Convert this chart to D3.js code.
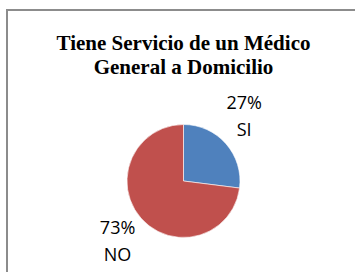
<!DOCTYPE html>
<html>
<head>
<meta charset="utf-8">
<script src="https://cdn.jsdelivr.net/npm/d3@7/dist/d3.min.js"></script>
<style>
  html, body { margin: 0; padding: 0; background: #fff; }
  svg { display: block; }
</style>
</head>
<body>
<script>
// Data
const titleLines = ["Tiene Servicio de un Médico", "General a Domicilio"];
const categories = ["SI", "NO"];
const values = [27, 73];
const colors = ["#4F81BD", "#C0504D"];

const W = 355, H = 272;
const svg = d3.select("body").append("svg").attr("width", W).attr("height", H);
svg.append("rect").attr("width", W).attr("height", H).attr("fill", "#fff");

// frame (left and top edges visible)
svg.append("path")
  .attr("d", `M7,${H} L7,10 L${W},10`)
  .attr("fill", "none").attr("stroke", "#8c8c8c").attr("stroke-width", 2);

const cx = 183.5, cy = 181, r = 56.5;

// title
const title = svg.append("text")
  .attr("text-anchor", "middle")
  .attr("font-family", "'Liberation Serif', 'Times New Roman', serif")
  .attr("font-weight", "bold").attr("font-size", 21).attr("fill", "#000");
titleLines.forEach((t, i) => {
  title.append("tspan").attr("x", cx).attr("y", 50 + i * 24).text(t);
});

const data = categories.map((c, i) => ({ cat: c, value: values[i], color: colors[i] }));
const pie = d3.pie().value(d => d.value).sort(null);
const arcs = pie(data);
const arc = d3.arc().innerRadius(0).outerRadius(r);

const g = svg.append("g").attr("transform", `translate(${cx},${cy})`);
g.selectAll("path.slice").data(arcs).enter().append("path")
  .attr("class", "slice")
  .attr("d", arc)
  .attr("fill", d => d.data.color)
  .attr("stroke", "#ffffff").attr("stroke-width", 0.6);

// labels
const total = d3.sum(values);
const labelR = 89;
const nudge = [-5.6, -0.8]; // degrees
arcs.forEach((a, i) => {
  const mid = (a.startAngle + a.endAngle) / 2 + nudge[i] * Math.PI / 180;
  const lx = Math.sin(mid) * labelR;
  const ly = -Math.cos(mid) * labelR;
  const t = g.append("text")
    .attr("text-anchor", "middle")
    .attr("font-family", "'Open Sans', 'Noto Sans', sans-serif")
    .attr("font-size", 18).attr("fill", "#000");
  t.append("tspan").attr("x", lx).attr("y", ly - 6.8)
    .text(Math.round(a.data.value / total * 100) + "%");
  t.append("tspan").attr("x", lx).attr("y", ly + 19.9).text(a.data.cat);
});
</script>
</body>
</html>
